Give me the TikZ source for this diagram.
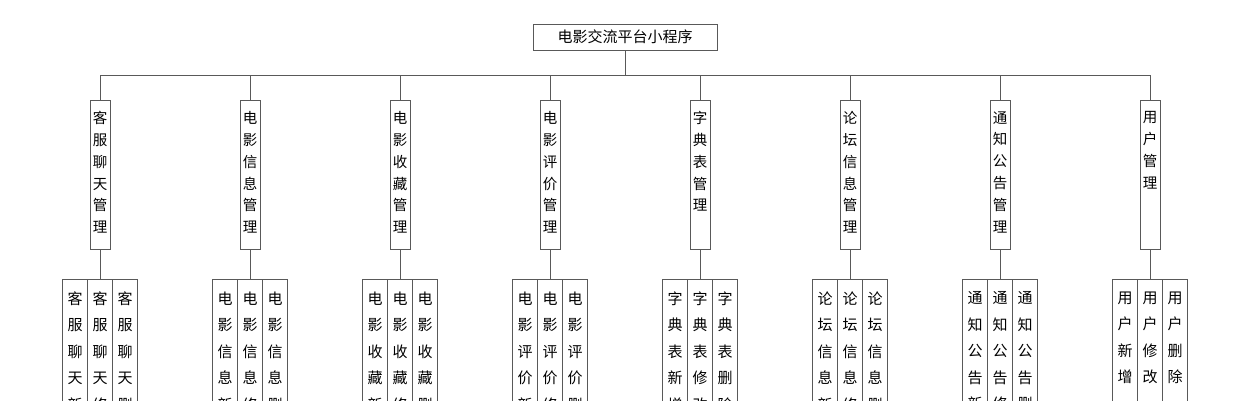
\documentclass[tikz,border=0pt]{standalone}
\usepackage{fontspec}
\setmainfont{Noto Sans CJK SC}
\ExplSyntaxOn
\NewDocumentCommand\vs{m}{\tl_set:Nx\l_tmpa_tl{#1}\tl_map_inline:Nn\l_tmpa_tl{\hbox_to_wd:nn{\linewidth}{\hss ##1\hss}\par}}
\ExplSyntaxOff
\begin{document}
\begin{tikzpicture}[x=1pt,y=-1pt,
  ln/.style={draw=black!65,line width=0.9pt},
  rootbox/.style={ln,minimum width=184pt,minimum height=26pt,inner sep=0pt,font=\fontsize{15}{15}\selectfont},
  lvtwo/.style={ln,anchor=north,minimum width=20pt,minimum height=149pt,inner sep=0pt},
  lvthree/.style={ln,anchor=north,minimum width=25pt,minimum height=160pt,inner sep=0pt}]
\useasboundingbox (0,0) rectangle (1250,400);
\begin{scope}
\clip (0,0) rectangle (1250,400);
\node[rootbox] (root) at (625,37) {电影交流平台小程序};
\coordinate (busl) at (100,75);
\coordinate (busr) at (1150,75);
\draw[ln] (busl) -- (busr);
\draw[ln] (root.south) -- (root.south |- busl);
\foreach \i/\g/\p in {0/客服聊天管理/客服聊天,1/电影信息管理/电影信息,2/电影收藏管理/电影收藏,3/电影评价管理/电影评价,4/字典表管理/字典表,5/论坛信息管理/论坛信息,6/通知公告管理/通知公告,7/用户管理/用户}{
  \pgfmathsetmacro\cx{100+150*\i}
  \node[lvtwo] (g\i) at (\cx,100) {\parbox[t][147pt][t]{20pt}{\fontsize{14.5}{21.8}\selectfont\vspace{10pt}\vs{\g}}};
  \draw[ln] (g\i.north) -- (g\i.north |- busl);
  \node[lvthree] (m\i) at (\cx,279) {\parbox[t][158pt][t]{25pt}{\fontsize{15}{26.5}\selectfont\vspace{11pt}\vs{\p 修改}}};
  \node[lvthree] (a\i) at (\cx-25,279) {\parbox[t][158pt][t]{25pt}{\fontsize{15}{26.5}\selectfont\vspace{11pt}\vs{\p 新增}}};
  \node[lvthree] (c\i) at (\cx+25,279) {\parbox[t][158pt][t]{25pt}{\fontsize{15}{26.5}\selectfont\vspace{11pt}\vs{\p 删除}}};
  \draw[ln] (g\i.south) -- (m\i.north);
}
\end{scope}
\end{tikzpicture}
\end{document}
